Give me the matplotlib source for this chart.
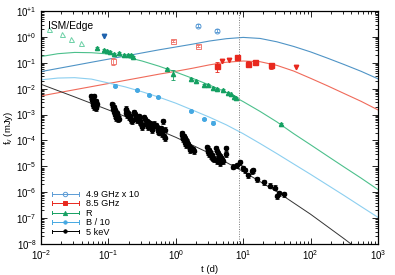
#!/usr/bin/env python3

import numpy as np
import matplotlib
matplotlib.use('Agg')
import matplotlib.pyplot as plt
from matplotlib.lines import Line2D
from matplotlib.legend_handler import HandlerBase
from matplotlib.ticker import FuncFormatter, LogLocator, NullFormatter

plt.rcParams['font.family'] = ['Liberation Sans', 'DejaVu Sans']
plt.rcParams['mathtext.fontset'] = 'custom'
plt.rcParams['mathtext.rm'] = 'Liberation Sans'
plt.rcParams['mathtext.it'] = 'Liberation Sans:italic'

# model curves, t in days, flux in mJy
curve_t = [0.01, 0.0178, 0.0316, 0.0562, 0.1, 0.178, 0.316, 0.562, 1.0, 1.78,
           3.16, 5.62, 10.0, 17.8, 31.6, 56.2, 100.0, 178.0, 316.0, 562.0, 1000.0]
curve_49 = [0.0457, 0.0603, 0.0794, 0.105, 0.138, 0.182, 0.240, 0.316, 0.407, 0.525,
            0.692, 0.851, 0.955, 0.871, 0.646, 0.427, 0.263, 0.151, 0.0851, 0.0468, 0.024]
curve_85 = [0.00525, 0.00692, 0.00912, 0.0120, 0.0158, 0.0209, 0.0275, 0.0363, 0.0468, 0.0617,
            0.0832, 0.105, 0.117, 0.110, 0.0794, 0.0479, 0.0251, 0.0129, 0.00646, 0.00324, 0.00151]
curve_r = [0.174, 0.224, 0.251, 0.245, 0.219, 0.17, 0.117, 0.074, 0.0437, 0.025,
           0.0138, 0.0072, 0.00316, 0.00132, 0.00052, 0.000182, 6.8e-05, 2.5e-05, 9.3e-06, 3.5e-06, 1.26e-06]
curve_b = [0.0219, 0.0257, 0.0266, 0.0234, 0.0166, 0.0117, 0.0076, 0.0047, 0.00275, 0.00148,
           0.00079, 0.0004, 0.000182, 7.6e-05, 3.1e-05, 1.23e-05, 4.9e-06, 1.9e-06, 7.4e-07, 2.8e-07, 1.07e-07]
curve_x_t = [0.01, 0.0316, 0.1, 0.316, 1.0, 3.16, 10.0, 31.6, 100.0, 316.0, 1000.0]
curve_x = [0.0148, 0.0048, 0.00151, 0.00047, 0.000132, 3.2e-05, 6.3e-06, 1.05e-06, 1.41e-07, 1.58e-08, 1.6e-09]

t_break = 8.75

# 4.9 GHz (x 10)
r49_t = [2.16, 4.05]
r49_f = [2.7, 1.73]
r49_e = [0.35, 0.25]
r49_lim_t = [0.087]
r49_lim_f = [1.08]

# 8.5 GHz
r85_t = [4.04, 8.0, 11.9, 14.8, 25.6]
r85_f = [0.077, 0.172, 0.093, 0.11, 0.080]
r85_e = [0.034, 0.015, 0.02, 0.018, 0.022]
r85_open_t = [0.116, 0.908, 2.11]
r85_open_f = [0.117, 0.68, 0.43]
r85_open_e = [0.038, 0.06, 0.04]
r85_lim_t = [4.9, 6.1, 60.0]
r85_lim_f = [0.114, 0.124, 0.069]

# R band
opt_r_t = [0.068, 0.087, 0.096, 0.106, 0.1225, 0.144, 0.170, 0.197, 0.216, 0.234, 0.733, 0.90,
           1.66, 1.97, 2.65, 3.04, 3.6, 4.05, 5.07, 5.9, 6.6, 7.3, 7.7, 36.4]
opt_r_f = [0.363, 0.312, 0.286, 0.254, 0.225, 0.245, 0.20, 0.20, 0.195, 0.172, 0.056, 0.037,
           0.0237, 0.020, 0.0135, 0.0135, 0.0104, 0.0098, 0.0087, 0.0068, 0.006, 0.0049, 0.0044, 0.00044]
opt_r_e = [0.03, 0.02, 0.02, 0.02, 0.02, 0.02, 0.015, 0.015, 0.015, 0.015, 0.006, 0.015,
           0.002, 0.002, 0.0012, 0.0012, 0.001, 0.001, 0.0008, 0.0006, 0.0005, 0.0005, 0.0004, 0.00005]
opt_r_open_t = [0.0133, 0.0205, 0.0279, 0.0396]
opt_r_open_f = [2.1, 1.26, 0.85, 0.60]

# B band (/ 10)
opt_b_t = [0.125, 0.268, 0.405, 0.538, 1.68, 2.65, 3.6]
opt_b_f = [0.0131, 0.0089, 0.0057, 0.0049, 0.00138, 0.00068, 0.00049]
opt_b_e = [0.0015, 0.0009, 0.0006, 0.0005, 0.00015, 0.00008, 0.00006]

# 5 keV
xray_t = [0.055, 0.0575, 0.0603, 0.0562, 0.0617, 0.0661, 0.0589, 0.0631, 0.0676, 0.0603, 0.0646,
          0.0570, 0.0640, 0.0595,
          0.115, 0.118, 0.122, 0.117, 0.125, 0.120, 0.128, 0.132, 0.126, 0.136, 0.140, 0.130, 0.138, 0.145,
          0.121, 0.133,
          0.18, 0.185, 0.19, 0.195, 0.20, 0.21, 0.205, 0.215, 0.22, 0.19, 0.225, 0.183, 0.212,
          0.24, 0.25, 0.26, 0.27, 0.28, 0.29, 0.30, 0.31, 0.265, 0.32, 0.285, 0.255, 0.295,
          0.34, 0.355, 0.37, 0.385, 0.40, 0.42, 0.44, 0.39, 0.45, 0.36, 0.41, 0.375,
          0.47, 0.50, 0.52, 0.55, 0.58, 0.60, 0.63, 0.66, 0.70, 0.65, 0.56, 0.68, 0.61, 0.54,
          1.22, 1.25, 1.28, 1.32, 1.35, 1.30, 1.40, 1.45, 1.38, 1.50, 1.55, 1.62, 1.70, 1.78, 1.85, 1.60, 1.42,
          1.27, 1.48, 1.66,
          2.9, 3.0, 3.1, 3.2, 3.3, 3.4, 3.0, 3.5, 3.6, 3.7, 3.15, 3.35,
          4.0, 4.1, 4.2, 4.4, 4.6, 4.8, 4.3, 5.0, 5.5, 5.6, 4.5, 4.1,
          7.1, 8.0, 9.0, 9.9, 10.6, 11.9, 13.4, 14.1, 16.2, 20.4, 25.0, 29.6, 32.1, 34.4, 40.3]
xray_f = [5.0e-3, 4.5e-3, 5.2e-3, 3.5e-3, 3.8e-3, 3.2e-3, 2.8e-3, 2.5e-3, 2.6e-3, 2.0e-3, 1.8e-3,
          4.0e-3, 3.0e-3, 2.3e-3,
          2.6e-3, 2.2e-3, 1.9e-3, 1.7e-3, 1.5e-3, 1.3e-3, 1.2e-3, 1.05e-3, 9.5e-4, 9.0e-4, 8.0e-4, 7.5e-4, 6.8e-4, 7.0e-4,
          1.6e-3, 1.15e-3,
          1.7e-3, 1.45e-3, 1.25e-3, 1.1e-3, 1.0e-3, 9.0e-4, 8.0e-4, 7.0e-4, 6.2e-4, 9.5e-4, 5.5e-4, 1.2e-3, 8.5e-4,
          1.25e-3, 1.05e-3, 9.0e-4, 7.5e-4, 6.5e-4, 5.5e-4, 4.5e-4, 4.0e-4, 6.0e-4, 3.3e-4, 8.5e-4, 7.0e-4, 5.0e-4,
          8.0e-4, 6.5e-4, 5.5e-4, 5.0e-4, 4.2e-4, 3.6e-4, 3.0e-4, 3.3e-4, 2.5e-4, 4.5e-4, 4.8e-4, 3.9e-4,
          4.5e-4, 3.8e-4, 3.2e-4, 2.8e-4, 2.4e-4, 2.1e-4, 1.8e-4, 1.5e-4, 1.25e-4, 5.4e-4, 2.0e-4, 2.6e-4, 3.0e-4, 2.3e-4,
          1.9e-4, 1.6e-4, 1.4e-4, 1.5e-4, 1.2e-4, 1.1e-4, 1.0e-4, 9.0e-5, 8.0e-5, 7.0e-5, 6.2e-5, 5.5e-5, 5.0e-5, 4.5e-5, 4.0e-5, 4.2e-5, 6.5e-5,
          1.3e-4, 8.2e-5, 4.8e-5,
          5.5e-5, 4.8e-5, 4.2e-5, 3.6e-5, 3.1e-5, 2.7e-5, 3.5e-5, 2.3e-5, 2.0e-5, 1.9e-5, 2.9e-5, 2.4e-5,
          5.0e-5, 4.0e-5, 3.3e-5, 2.8e-5, 2.4e-5, 2.0e-5, 2.0e-5, 1.6e-5, 5.0e-5, 3.0e-5, 1.3e-5, 1.6e-5,
          9.8e-6, 1.13e-5, 1.44e-5, 8.5e-6, 7.3e-6, 4.7e-6, 6.6e-6, 7.3e-6, 3.2e-6, 2.4e-6, 1.8e-6, 1.5e-6, 7.0e-7, 9.1e-7, 8.2e-7]
xray_rel_err = 0.22

x_ticks = [1e-2, 1e-1, 1e0, 1e1, 1e2, 1e3]
y_ticks = [1e-8, 1e-7, 1e-6, 1e-5, 1e-4, 1e-3, 1e-2, 1e-1, 1e0, 1e1]

col_49 = '#5b9bd5'
col_49_line = '#4f94c6'
col_49_lim = '#1f62ad'
col_85 = '#e8281e'
col_85_line = '#f06a5a'
col_85_open = '#f07a72'
col_r = '#15a062'
col_r_line = '#4cc08c'
col_r_open = '#6cd0a6'
col_b = '#45a8e2'
col_b_line = '#8ccff0'
col_x = 'black'


class BarHandler(HandlerBase):
    def create_artists(self, legend, orig_handle, xdescent, ydescent,
                       width, height, fontsize, trans):
        y = height / 2.0 - ydescent
        x0, x1 = -xdescent, width - xdescent
        c = orig_handle.get_color()
        h = height * 0.3
        arts = [Line2D([x0, x1], [y, y], color=c, lw=0.7),
                Line2D([x0, x0], [y - h, y + h], color=c, lw=0.7),
                Line2D([x1, x1], [y - h, y + h], color=c, lw=0.7),
                Line2D([(x0 + x1) / 2], [y], ls='none',
                       marker=orig_handle.get_marker(),
                       ms=orig_handle.get_markersize(),
                       mfc=orig_handle.get_markerfacecolor(),
                       mec=orig_handle.get_markeredgecolor(),
                       mew=orig_handle.get_markeredgewidth())]
        for a in arts:
            a.set_transform(trans)
        return arts


def main():
    fig = plt.figure(figsize=(3.95, 2.75), dpi=100)
    ax = fig.add_axes([41 / 395, 31 / 275, 337 / 395, 233 / 275])
    ax.set_xscale('log')
    ax.set_yscale('log')

    ax.plot(curve_t, curve_49, color=col_49_line, lw=0.8)
    ax.plot(curve_t, curve_85, color=col_85_line, lw=0.8)
    ax.plot(curve_t, curve_r, color=col_r_line, lw=0.8)
    ax.plot(curve_t, curve_b, color=col_b_line, lw=0.8)
    ax.plot(curve_x_t, curve_x, color='#333333', lw=0.7)
    ax.axvline(t_break, color='#777777', lw=0.7, ls=(0, (1, 1.5)))

    eb = dict(ls='none', capsize=1.3, elinewidth=0.6, capthick=0.6)

    ax.errorbar(xray_t, xray_f, yerr=np.array(xray_f) * xray_rel_err, fmt='o',
                color=col_x, ms=3.0, **eb)

    ax.errorbar(opt_b_t, opt_b_f, yerr=opt_b_e, fmt='o', color=col_b,
                ms=2.6, **eb)

    ax.errorbar(opt_r_t, opt_r_f, yerr=opt_r_e, fmt='^', color=col_r,
                ms=3.0, **eb)
    ax.plot(opt_r_open_t, opt_r_open_f, '^', ls='none', ms=3.6, mfc='none',
            mec=col_r_open, mew=0.7)

    ax.errorbar(r85_t, r85_f, yerr=r85_e, fmt='s', color=col_85, ms=3.6, **eb)
    ax.errorbar(r85_open_t, r85_open_f, yerr=r85_open_e, fmt='s',
                color=col_85_open, mfc='none', mew=0.7, ms=3.6, **eb)
    ax.plot(r85_lim_t, r85_lim_f, 'v', ls='none', color=col_85, ms=3.2)

    ax.errorbar(r49_t, r49_f, yerr=r49_e, fmt='o', color=col_49, mfc='none',
                mew=0.7, ms=3.6, **eb)
    ax.plot(r49_lim_t, r49_lim_f, 'v', ls='none', color=col_49_lim, ms=3.2)

    ax.set_xlim(1e-2, 1e3)
    ax.set_ylim(1e-8, 1e1)

    ax.set_xticks(x_ticks)
    ax.set_yticks(y_ticks)
    ax.xaxis.set_minor_locator(LogLocator(base=10, subs=np.arange(2, 10), numticks=20))
    ax.yaxis.set_minor_locator(LogLocator(base=10, subs=np.arange(2, 10), numticks=20))
    ax.xaxis.set_minor_formatter(NullFormatter())
    ax.yaxis.set_minor_formatter(NullFormatter())
    ax.xaxis.set_major_formatter(FuncFormatter(
        lambda v, p: r'$\mathdefault{10^{%d}}$' % round(np.log10(v))))
    ax.yaxis.set_major_formatter(FuncFormatter(
        lambda v, p: r'$\mathdefault{10^{%+d}}$' % round(np.log10(v))))
    ax.tick_params(which='both', direction='in', top=True, right=True,
                   labelsize=7, width=0.6, pad=3)
    ax.tick_params(which='major', length=4)
    ax.tick_params(which='minor', length=2)
    for s in ax.spines.values():
        s.set_linewidth(0.9)

    ax.set_xlabel('t (d)', fontsize=6.8, labelpad=2)
    ax.set_ylabel(r'f$_\nu$ (mJy)', fontsize=6.8, labelpad=1)
    ax.text(0.02, 0.955, 'ISM/Edge', transform=ax.transAxes, fontsize=7.4,
            ha='left', va='top')

    handles = [
        Line2D([], [], color=col_49, marker='o', mfc='none', mec=col_49, ms=3.2, mew=0.7),
        Line2D([], [], color=col_85, marker='s', mfc=col_85, mec=col_85, ms=3.4, mew=0.7),
        Line2D([], [], color=col_r, marker='^', mfc=col_r, mec=col_r, ms=3.0, mew=0.7),
        Line2D([], [], color=col_b, marker='o', mfc=col_b, mec=col_b, ms=2.4, mew=0.7),
        Line2D([], [], color=col_x, marker='o', mfc=col_x, mec=col_x, ms=2.4, mew=0.7),
    ]
    labels = ['4.9 GHz x 10', '8.5 GHz', 'R', 'B / 10', '5 keV']
    ax.legend(handles, labels, loc='lower left', frameon=False, fontsize=6.6,
              handler_map={Line2D: BarHandler()}, handlelength=3.0,
              handletextpad=0.7, labelspacing=0.05, borderaxespad=0.4,
              bbox_to_anchor=(0.01, 0.0))

    plt.savefig('out.png', dpi=100)


if __name__ == "__main__":
    main()
